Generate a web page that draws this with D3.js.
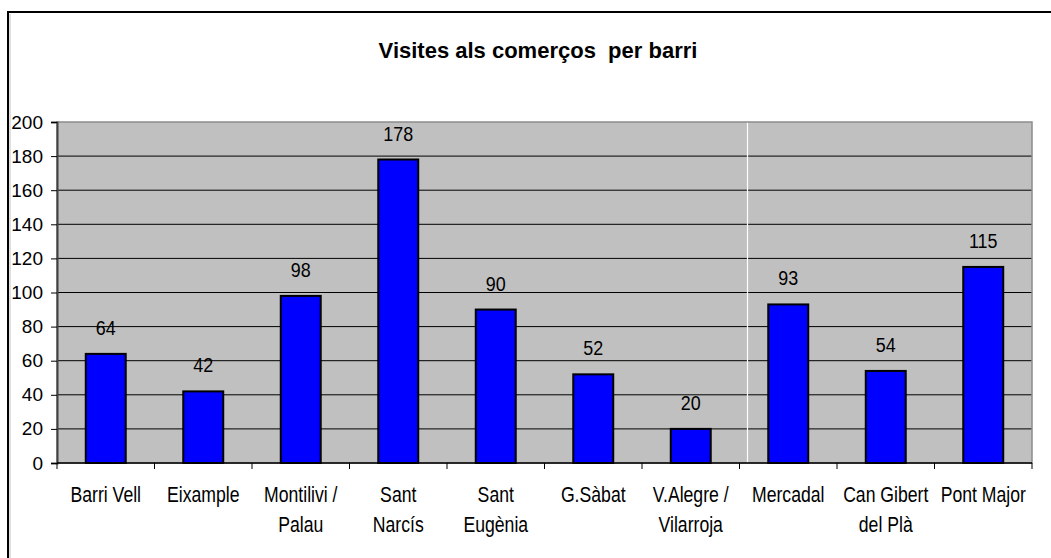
<!DOCTYPE html>
<html>
<head>
<meta charset="utf-8">
<script src="https://cdn.jsdelivr.net/npm/d3@7"></script>
<style>
  body { margin: 0; background: #fff; }
  text { font-family: "Liberation Sans", Arial, sans-serif; }
</style>
</head>
<body>
<div id="chart"></div>
<script>
// data
var barris = ["Barri Vell", "Eixample", "Montilivi / Palau", "Sant Narcís", "Sant Eugènia",
  "G.Sàbat", "V.Alegre / Vilarroja", "Mercadal", "Can Gibert del Plà", "Pont Major"];
var etiquetes = [["Barri Vell"], ["Eixample"], ["Montilivi /", "Palau"], ["Sant", "Narcís"],
  ["Sant", "Eugènia"], ["G.Sàbat"], ["V.Alegre /", "Vilarroja"], ["Mercadal"],
  ["Can Gibert", "del Plà"], ["Pont Major"]];
var visites = [64, 42, 98, 178, 90, 52, 20, 93, 54, 115];
var yTicks = [0, 20, 40, 60, 80, 100, 120, 140, 160, 180, 200];

var svgWidth = 1051;
var svgHeight = 558;

var margin = { top: 122, right: 19, bottom: 95, left: 57 };
var width = svgWidth - margin.left - margin.right;
var height = svgHeight - margin.top - margin.bottom;

var svg = d3.select("#chart")
  .append("svg")
  .attr("width", svgWidth)
  .attr("height", svgHeight);

// outer frame
svg.append("rect")
  .attr("x", 8).attr("y", 12)
  .attr("width", 1100).attr("height", 600)
  .attr("fill", "none")
  .attr("stroke", "#000")
  .attr("stroke-width", 2);

svg.append("line")
  .attr("x1", 10).attr("x2", 10).attr("y1", 14).attr("y2", svgHeight)
  .attr("stroke", "#c0c0c0").attr("stroke-width", 1);

// title
svg.append("text")
  .attr("x", 538)
  .attr("y", 58)
  .attr("text-anchor", "middle")
  .attr("font-size", "22px")
  .attr("font-weight", "bold")
  .style("white-space", "pre")
  .text("Visites als comerços  per barri");

var chartGroup = svg.append("g")
  .attr("transform", `translate(${margin.left}, ${margin.top})`);

var xScale = d3.scaleBand()
  .domain(barris)
  .range([0, width]);

var yScale = d3.scaleLinear()
  .domain([0, 200])
  .range([height, 0]);

// plot background
chartGroup.append("rect")
  .attr("width", width)
  .attr("height", height)
  .attr("fill", "#c0c0c0");

// gridlines
chartGroup.append("g")
  .selectAll("line")
  .data(yTicks.filter(d => d > 0 && d < 200))
  .enter()
  .append("line")
  .attr("x1", 0).attr("x2", width)
  .attr("y1", d => yScale(d)).attr("y2", d => yScale(d))
  .attr("stroke", "#000")
  .attr("stroke-width", 1);

// the white line in the Mercadal band
chartGroup.append("line")
  .attr("x1", xScale("Mercadal") + 8).attr("x2", xScale("Mercadal") + 8)
  .attr("y1", 0).attr("y2", height)
  .attr("stroke", "#fff")
  .attr("stroke-width", 1.2);

// plot border
chartGroup.append("rect")
  .attr("width", width)
  .attr("height", height)
  .attr("fill", "none")
  .attr("stroke", "#8c8c8c")
  .attr("stroke-width", 1.5);

// bars
var barW = xScale.bandwidth() * 0.41;
chartGroup.selectAll(".bar")
  .data(visites)
  .enter()
  .append("rect")
  .attr("class", "bar")
  .attr("x", (d, i) => xScale(barris[i]) + (xScale.bandwidth() - barW) / 2)
  .attr("y", d => yScale(d))
  .attr("width", barW)
  .attr("height", d => height - yScale(d))
  .attr("fill", "#0000ff")
  .attr("stroke", "#000")
  .attr("stroke-width", 2);

// values above bars
chartGroup.append("g")
  .selectAll("text")
  .data(visites)
  .enter()
  .append("text")
  .attr("transform", (d, i) => `translate(${xScale(barris[i]) + xScale.bandwidth() / 2}, ${yScale(d) - 19}) scale(0.92, 1)`)
  .attr("text-anchor", "middle")
  .attr("font-size", "19.5px")
  .attr("fill", "#000")
  .text(d => d);

// y axis
var yAxis = d3.axisLeft(yScale).tickValues(yTicks).tickSize(6).tickPadding(8);
var yG = chartGroup.append("g").call(yAxis);
yG.select(".domain").attr("stroke", "#404040").attr("stroke-width", 2);
yG.selectAll(".tick line").attr("stroke", "#000");
yG.selectAll(".tick text")
  .attr("font-size", "19px")
  .attr("font-family", "Liberation Sans, Arial, sans-serif")
  .attr("fill", "#000");

// x axis line and ticks at band edges
chartGroup.append("line")
  .attr("x1", 0).attr("x2", width)
  .attr("y1", height).attr("y2", height)
  .attr("stroke", "#000").attr("stroke-width", 1.5);

chartGroup.append("g")
  .selectAll("line")
  .data(barris)
  .enter()
  .append("line")
  .attr("x1", d => xScale(d)).attr("x2", d => xScale(d))
  .attr("y1", height).attr("y2", height + 6)
  .attr("stroke", "#000");

chartGroup.append("line")
  .attr("x1", width).attr("x2", width)
  .attr("y1", height).attr("y2", height + 6)
  .attr("stroke", "#000");

// category labels
var labels = chartGroup.append("g")
  .selectAll("g")
  .data(etiquetes)
  .enter()
  .append("g")
  .attr("transform", (d, i) => `translate(${xScale(barris[i]) + xScale.bandwidth() / 2}, ${height + 39}) scale(0.82, 1)`);

labels.selectAll("text")
  .data(d => d)
  .enter()
  .append("text")
  .attr("y", (d, j) => j * 30)
  .attr("text-anchor", "middle")
  .attr("font-size", "21.5px")
  .attr("fill", "#000")
  .text(d => d);
</script>
</body>
</html>
